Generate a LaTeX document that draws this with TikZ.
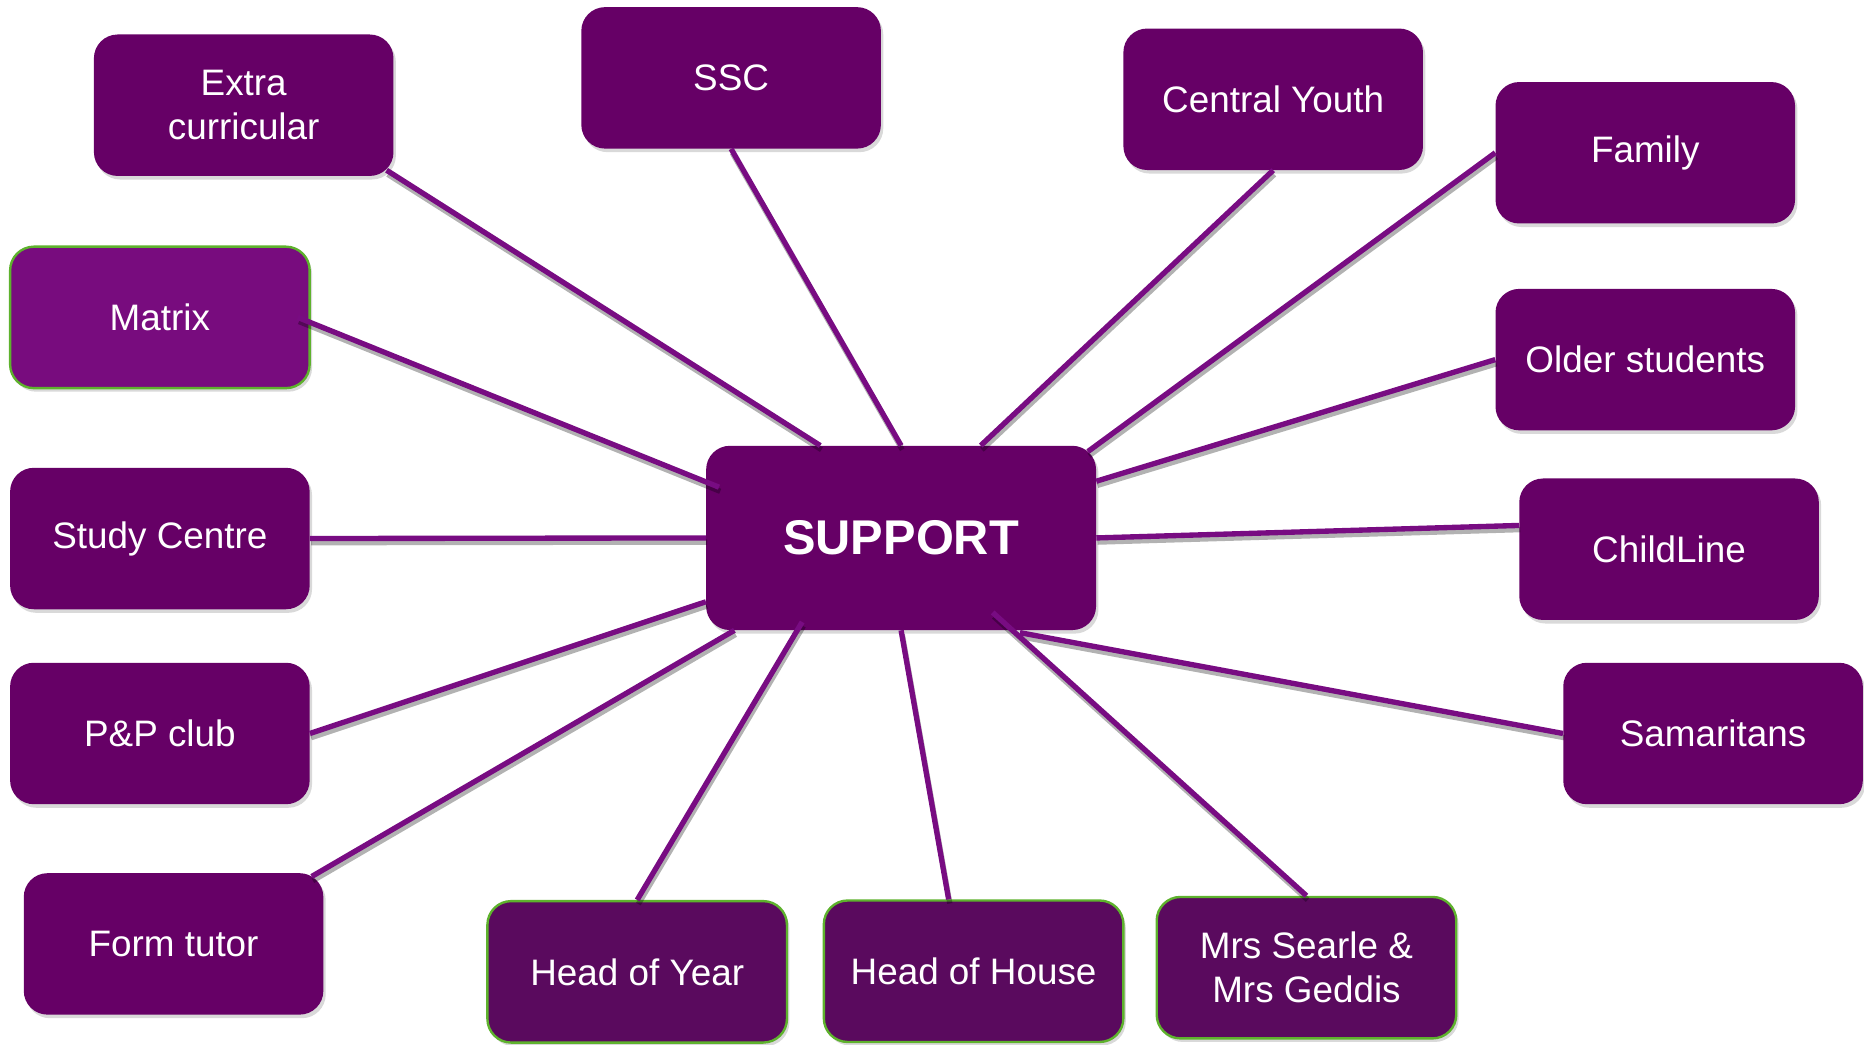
\documentclass[tikz,border=0pt]{standalone}
\usepackage{fontspec}
\setmainfont{Liberation Sans}
\usetikzlibrary{shadows}
\definecolor{darkplum}{RGB}{102,0,102}
\definecolor{brightplum}{RGB}{120,12,126}
\definecolor{deepplum}{RGB}{90,10,94}
\definecolor{leafgreen}{RGB}{94,178,45}
\definecolor{linkplum}{RGB}{120,12,130}

\begin{document}
\begin{tikzpicture}[x=1pt, y=-1pt, line join=bevel,
        plumbox/.style={shape=rectangle, rounded corners=20pt, fill=darkplum, text=white, minimum width=252pt, minimum height=119pt, inner sep=0pt, align=center, font=\fontsize{31}{37}\selectfont, drop shadow={opacity=0.3, shadow xshift=2pt, shadow yshift=-3pt}},
        brightplumbox/.style={plumbox, fill=brightplum, draw=leafgreen, line width=2pt},
        deepplumbox/.style={plumbox, fill=deepplum, draw=leafgreen, line width=2pt},
        hubbox/.style={plumbox, minimum width=328pt, minimum height=155pt, font=\fontsize{41}{48}\selectfont\bfseries},
        link/.style={draw=linkplum, line width=4.5pt},
        linkshade/.style={draw=black, opacity=0.3, line width=4.5pt}]
        \useasboundingbox (0,0) rectangle (1568,879);
        % Boxes
        \node[hubbox] (sup) at (758,452.5) {SUPPORT};
        \node[plumbox] (ext) at (205,88.5) {Extra\\curricular};
        \node[plumbox] (ssc) at (615,65.5) {SSC};
        \node[plumbox] (cy) at (1071,83.5) {Central Youth};
        \node[plumbox] (fam) at (1384,128.5) {Family};
        \node[brightplumbox] (mat) at (134.5,267) {Matrix};
        \node[plumbox] (old) at (1384,302.5) {Older students};
        \node[plumbox] (stc) at (134.5,453) {Study Centre};
        \node[plumbox] (chl) at (1404,462) {ChildLine};
        \node[plumbox] (pp) at (134.5,617) {P\&P club};
        \node[plumbox] (sam) at (1441,617) {Samaritans};
        \node[plumbox] (ft) at (146,794) {Form tutor};
        \node[deepplumbox] (hoy) at (536,817.5) {Head of Year};
        \node[deepplumbox] (hoh) at (819,817) {Head of House};
        \node[deepplumbox] (ms) at (1099,814) {Mrs Searle \&\\Mrs Geddis};
        % Lines (shade first, then the line itself)
        \foreach \from/\to in {{[xshift=-6pt,yshift=5pt]ext.south east}/{[xshift=-68pt]sup.north},
                ssc.south/sup.north,
                cy.south/{[xshift=67pt]sup.north},
                fam.west/{[xshift=-7pt,yshift=-5pt]sup.north east},
                {[xshift=-11pt]mat.east}/{[xshift=11pt,yshift=-35pt]sup.north west},
                old.west/{[yshift=-30pt]sup.north east},
                stc.east/sup.west,
                {[yshift=20pt]chl.west}/sup.east,
                pp.east/{[yshift=24pt]sup.south west},
                sam.west/{[xshift=100pt,yshift=-2pt]sup.south},
                {[xshift=-10pt,yshift=-3pt]ft.north east}/{[xshift=24pt]sup.south west},
                hoy.north/{[xshift=81pt,yshift=7pt]sup.south west},
                {[xshift=-21pt]hoh.north}/sup.south,
                ms.north/{[xshift=77pt,yshift=15pt]sup.south}} {
          \edef\shadelink{\noexpand\draw[linkshade] (\from) -- (\to);}
          \edef\drawlink{\noexpand\draw[link] (\from) -- (\to);}
          \begin{scope}[transform canvas={xshift=1pt, yshift=-3.5pt}]
            \shadelink
          \end{scope}
          \drawlink
        }
\end{tikzpicture}
\end{document}
